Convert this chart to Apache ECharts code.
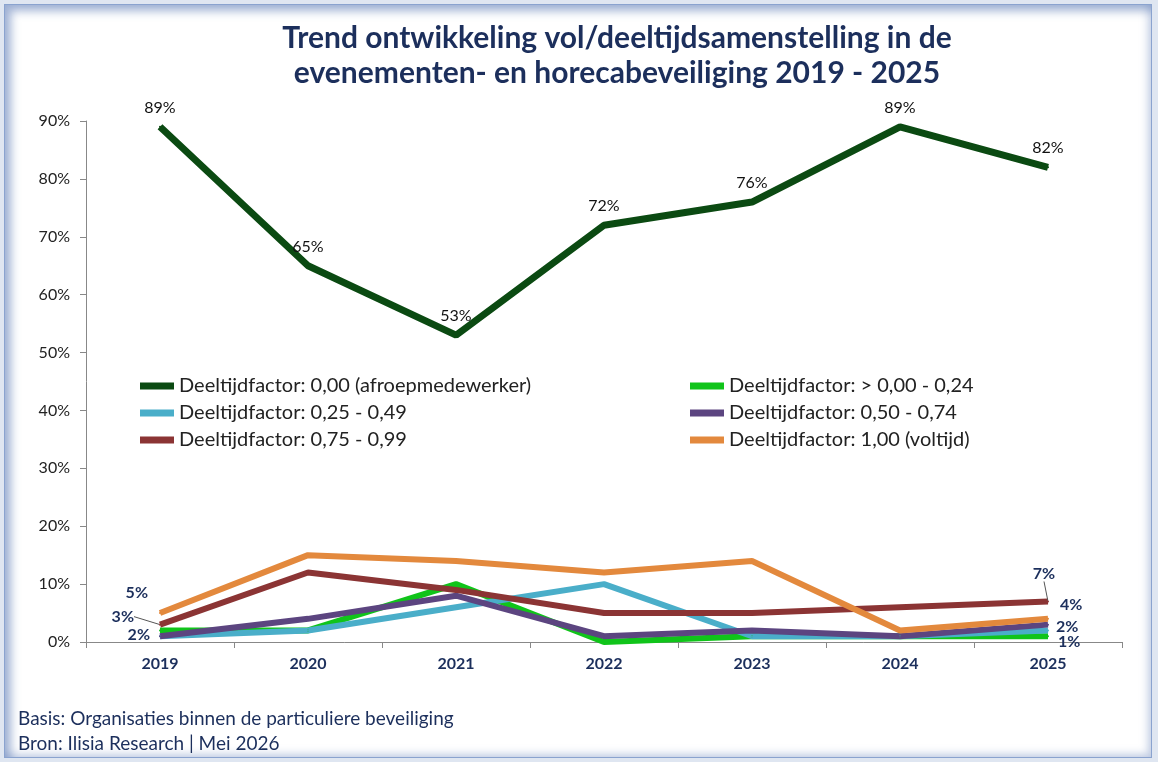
<!DOCTYPE html>
<html>
<head>
<meta charset="utf-8">
<script src="https://cdn.jsdelivr.net/npm/echarts@6/dist/echarts.min.js"></script>
<style>
  html, body { margin: 0; padding: 0; background: #dfe6f1; }
  #frame {
    position: absolute; left: 4px; top: 4px; width: 1146px; height: 752px;
    background: #fff; border: 1px solid #8aa3cf;
    box-shadow: inset 6px 6px 10px rgba(90,120,180,0.55), inset -3px -3px 8px rgba(90,120,180,0.35);
  }
  #chart { position: absolute; left: 0; top: 0; width: 1158px; height: 762px; }
</style>
</head>
<body>
<div id="frame"></div>
<div id="chart"></div>
<script>
// jaren en percentages per deeltijdfactor
var years = ['2019', '2020', '2021', '2022', '2023', '2024', '2025'];
var yTicks = [0, 10, 20, 30, 40, 50, 60, 70, 80, 90];

var factor000 = [89, 65, 53, 72, 76, 89, 82];   // 0,00 (afroepmedewerker)
var factor000_024 = [2, 2, 10, 0, 1, 1, 1];     // > 0,00 - 0,24
var factor025_049 = [1, 2, 6, 10, 1, 1, 2];     // 0,25 - 0,49
var factor050_074 = [1, 4, 8, 1, 2, 1, 3];      // 0,50 - 0,74
var factor075_099 = [3, 12, 9, 5, 5, 6, 7];     // 0,75 - 0,99
var factor100 = [5, 15, 14, 12, 14, 2, 4];      // 1,00 (voltijd)

var names = [
    'Deeltijdfactor: 0,00 (afroepmedewerker)',
    'Deeltijdfactor: > 0,00 - 0,24',
    'Deeltijdfactor: 0,25 - 0,49',
    'Deeltijdfactor: 0,50 - 0,74',
    'Deeltijdfactor: 0,75 - 0,99',
    'Deeltijdfactor: 1,00 (voltijd)'
];

var navy = '#1c2f5c';
var font = 'Lato, "Open Sans", sans-serif';

// labels alleen bij begin en eind, zoals in het origineel
function endLabels(values, first, last) {
    return values.map(function (v, i) {
        var item = { value: v };
        if (i === 0 && first) item.label = first;
        else if (i === values.length - 1 && last) item.label = last;
        return item;
    });
}
function lbl(pos, offset) {
    return {
        show: true, position: pos, offset: offset || [0, 0],
        color: navy, fontWeight: 'bold', fontSize: 16, fontFamily: font,
        formatter: '{c}%'
    };
}

function line(name, color, data, extra) {
    var s = {
        name: name, type: 'line', data: data,
        symbol: 'circle', symbolSize: 2, showSymbol: true,
        lineStyle: { width: 6, color: color },
        itemStyle: { color: color },
        emphasis: { disabled: true }
    };
    for (var k in extra) s[k] = extra[k];
    return s;
}

var chart = echarts.init(document.getElementById('chart'));

var legendText = { fontSize: 20, color: '#222', fontFamily: font };

var option = {
    animation: false,
    title: {
        text: 'Trend ontwikkeling vol/deeltijdsamenstelling in de\nevenementen- en horecabeveiliging 2019 - 2025',
        left: 612, top: 16, textAlign: 'center',
        textStyle: { color: navy, fontSize: 30, fontWeight: 'bold', fontFamily: font, lineHeight: 35 }
    },
    graphic: [
        { type: 'text', left: 18, top: 709, style: { text: 'Basis: Organisaties binnen de particuliere beveiliging', fill: navy, font: '19px ' + font } },
        { type: 'text', left: 18, top: 734, style: { text: 'Bron: Ilisia Research | Mei 2026', fill: navy, font: '19px ' + font } }
    ],
    legend: [
        {
            data: [names[0], names[2], names[4]],
            orient: 'vertical', left: 135, top: 371, itemGap: 7,
            itemWidth: 34, itemHeight: 7, icon: 'rect',
            textStyle: legendText
        },
        {
            data: [names[1], names[3], names[5]],
            orient: 'vertical', left: 685, top: 371, itemGap: 7,
            itemWidth: 34, itemHeight: 7, icon: 'rect',
            textStyle: legendText
        }
    ],
    grid: { left: 86, right: 36, top: 121, bottom: 120 },
    xAxis: {
        type: 'category', data: years, boundaryGap: true,
        axisLine: { lineStyle: { color: '#888', width: 1 } },
        axisTick: { show: true, length: 6, lineStyle: { color: '#888' } },
        axisLabel: { color: navy, fontWeight: 'bold', fontSize: 16, fontFamily: font, margin: 14 }
    },
    yAxis: {
        type: 'value', min: yTicks[0], max: yTicks[yTicks.length - 1], interval: 10,
        axisLine: { show: true, lineStyle: { color: '#888' } },
        axisTick: { show: true, length: 6, lineStyle: { color: '#888' } },
        splitLine: { show: false },
        axisLabel: { color: '#222', fontSize: 16, fontFamily: font, formatter: '{value}%', margin: 16 }
    },
    series: [
        line(names[0], '#0b4a12', factor000, {
            lineStyle: { width: 7, color: '#0b4a12' },
            label: { show: true, position: 'top', distance: 10, color: '#111', fontSize: 16, fontFamily: font, formatter: '{c}%' }
        }),
        line(names[1], '#10c41a', endLabels(factor000_024, lbl('left', [-4, 4]), lbl('right', [4, 6]))),
        line(names[2], '#4aaec9', endLabels(factor025_049, null, lbl('right', [2, -4]))),
        line(names[3], '#5c4580', factor050_074),
        line(names[4], '#8b3434', endLabels(factor075_099, lbl('left', [0, 0]), lbl('top', [0, 0])), {
            labelLayout: function (p) {
                return p.dataIndex === 0 ? { dx: -20, dy: -8 } : { dx: -4, dy: -14 };
            },
            labelLine: { show: true, length2: 0, lineStyle: { color: '#555', width: 1 } }
        }),
        line(names[5], '#e3893d', endLabels(factor100, lbl('left', [-6, -20]), lbl('right', [6, -14])))
    ]
};

chart.setOption(option);
window.onresize = chart.resize;
</script>
</body>
</html>
